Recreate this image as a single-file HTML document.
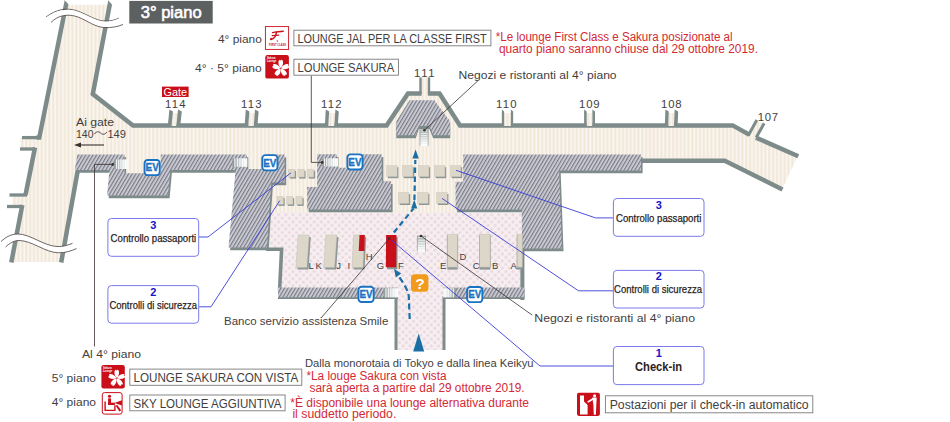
<!DOCTYPE html>
<html><head><meta charset="utf-8"><title>3° piano</title>
<style>
html,body{margin:0;padding:0;background:#fff;}
body{width:950px;height:422px;overflow:hidden;}
svg{display:block;}
text{font-family:"Liberation Sans",sans-serif;}
</style></head><body>
<svg width="950" height="422" viewBox="0 0 950 422">
<defs>
<pattern id="stripes" patternUnits="userSpaceOnUse" width="3.85" height="10">
<rect width="3.85" height="10" fill="#f1e7d7"/>
<rect x="0.3" width="1.9" height="10" fill="#faf6f1"/>
</pattern>
<pattern id="hatch" patternUnits="userSpaceOnUse" width="3.6" height="7" patternTransform="skewX(-30.5)">
<rect width="3.6" height="7" fill="#c9c9d3"/>
<rect x="0" width="1.3" height="7" fill="#787a82"/>
</pattern>
<pattern id="dots" patternUnits="userSpaceOnUse" width="7.1" height="7.1">
<rect width="7.1" height="7.1" fill="#f6eff1"/>
<circle cx="1.8" cy="1.8" r="1.6" fill="#ecd7df"/>
<circle cx="5.35" cy="5.35" r="1.6" fill="#ecd7df"/>
</pattern>
<linearGradient id="escL" x1="0" x2="1" y1="0" y2="0">
<stop offset="0" stop-color="#8c9696"/><stop offset="0.65" stop-color="#e2e6e6"/><stop offset="1" stop-color="#ffffff"/>
</linearGradient>
<linearGradient id="escR" x1="0" x2="1" y1="0" y2="0">
<stop offset="0" stop-color="#ffffff"/><stop offset="0.35" stop-color="#e2e6e6"/><stop offset="1" stop-color="#8c9696"/>
</linearGradient>
<linearGradient id="escV" x1="0" x2="0" y1="0" y2="1">
<stop offset="0" stop-color="#9ca5a5"/><stop offset="0.75" stop-color="#e6eaea"/><stop offset="1" stop-color="#ffffff"/>
</linearGradient>
</defs>
<rect width="950" height="422" fill="#fff"/>

<polygon points="66.4,4.7 110.5,4.7 92.8,94 133,125.5 386.6,125.5 408,93.7 420.3,93.7 420.3,77.4 429.2,77.4 429.2,93.7 439.5,93.7 460,125.5 732.6,125.5 749,134.5 756,137 798,155.5 782,189.5 724.7,160.8 640,160.8 640,156 463,156 463,213 272,213 272,156 78,156 61,262 11.5,262 22.5,207 12.5,207 12.5,195 25.5,195 35,149 20,149 20,137.6 39,137.6" fill="url(#stripes)" />
<rect x="124" y="154" width="37.5" height="21" fill="url(#stripes)"/>
<rect x="246" y="154" width="23" height="17" fill="url(#stripes)"/>
<rect x="336" y="154" width="14" height="15" fill="url(#stripes)"/>
<polygon points="268,212.5 522,212.5 522,290 443.5,290 443.5,350 396,350 396,290 279,290 281,250 266,250" fill="url(#dots)" />
<polyline points="67.6,-3 39.3,137.6 36.5,137.6" fill="none" stroke="#7e8b8b" stroke-width="4.5" stroke-linejoin="miter" stroke-miterlimit="10" />
<polyline points="39,137.6 22,137.6" fill="none" stroke="#7e8b8b" stroke-width="3.3" stroke-linejoin="miter" stroke-miterlimit="10" />
<polyline points="20,149 35,149" fill="none" stroke="#7e8b8b" stroke-width="3.3" stroke-linejoin="miter" stroke-miterlimit="10" />
<polyline points="35,147.5 25.5,195" fill="none" stroke="#7e8b8b" stroke-width="4.5" stroke-linejoin="miter" stroke-miterlimit="10" />
<polyline points="27,195 9.5,195" fill="none" stroke="#7e8b8b" stroke-width="3.3" stroke-linejoin="miter" stroke-miterlimit="10" />
<polyline points="7,206.5 22.3,206.5" fill="none" stroke="#7e8b8b" stroke-width="3.3" stroke-linejoin="miter" stroke-miterlimit="10" />
<polyline points="22.3,205 11.3,262.5" fill="none" stroke="#7e8b8b" stroke-width="4.5" stroke-linejoin="miter" stroke-miterlimit="10" />
<polyline points="111.2,-3 92.8,94 133,125.4 386.6,125.4 408,93.6 421.6,93.6" fill="none" stroke="#7e8b8b" stroke-width="4.5" stroke-linejoin="miter" stroke-miterlimit="10" />
<polyline points="427.9,93.6 439.5,93.6 460,125.4 732.6,125.4 749.5,134.8" fill="none" stroke="#7e8b8b" stroke-width="4.5" stroke-linejoin="miter" stroke-miterlimit="10" />
<polyline points="756,137.6 798.3,156.3" fill="none" stroke="#7e8b8b" stroke-width="4.5" stroke-linejoin="miter" stroke-miterlimit="10" />
<polygon points="750.5,134.5 757.5,121 763,124 756,136.5" fill="url(#stripes)" />
<polyline points="748.3,135.5 756.8,120" fill="none" stroke="#7e8b8b" stroke-width="3" stroke-linejoin="miter" stroke-miterlimit="10" />
<polyline points="764.2,123.3 756.2,137.5" fill="none" stroke="#7e8b8b" stroke-width="3" stroke-linejoin="miter" stroke-miterlimit="10" />
<polygon points="171.3,126 172.9,113 178.1,113 176.5,126" fill="url(#stripes)"/>
<polygon points="167.79999999999998,126 169.39999999999998,109.4 173.0,111.6 171.4,126" fill="#7e8b8b" />
<polygon points="176.4,126 178.0,109.4 181.8,111.6 180.20000000000002,126" fill="#7e8b8b" />
<polygon points="248.10000000000002,126 249.3,113 255.09999999999997,113 253.89999999999998,126" fill="url(#stripes)"/>
<polygon points="244.6,126 245.79999999999998,109.4 249.4,111.6 248.20000000000002,126" fill="#7e8b8b" />
<polygon points="253.79999999999998,126 254.99999999999997,109.4 258.59999999999997,111.6 257.4,126" fill="#7e8b8b" />
<polygon points="328.09999999999997,126 329.09999999999997,113 335.50000000000006,113 334.50000000000006,126" fill="url(#stripes)"/>
<polygon points="324.8,126 325.8,109.4 329.2,111.6 328.2,126" fill="#7e8b8b" />
<polygon points="334.40000000000003,126 335.40000000000003,109.4 338.8,111.6 337.8,126" fill="#7e8b8b" />
<polygon points="504.04999999999995,126 504.04999999999995,113 510.95000000000005,113 510.95000000000005,126" fill="url(#stripes)"/>
<polygon points="501.85,126 501.85,109.4 504.15,111.6 504.15,126" fill="#7e8b8b" />
<polygon points="510.85,126 510.85,109.4 513.15,111.6 513.15,126" fill="#7e8b8b" />
<polygon points="586.5999999999999,126 586.5999999999999,113 592.5000000000001,113 592.5000000000001,126" fill="url(#stripes)"/>
<polygon points="584.1,126 584.1,109.4 586.6999999999999,111.6 586.6999999999999,126" fill="#7e8b8b" />
<polygon points="592.4000000000001,126 592.4000000000001,109.4 595.0,111.6 595.0,126" fill="#7e8b8b" />
<polygon points="668.1,126 668.7,113 674.7,113 674.1,126" fill="url(#stripes)"/>
<polygon points="664.8,126 665.4,109.4 668.8000000000001,111.6 668.2,126" fill="#7e8b8b" />
<polygon points="674.0,126 674.6,109.4 678.1999999999999,111.6 677.5999999999999,126" fill="#7e8b8b" />
<polyline points="420.5,77.4 420.5,94" fill="none" stroke="#7e8b8b" stroke-width="2.4" stroke-linejoin="miter" stroke-miterlimit="10" />
<polyline points="429,77.4 429,94" fill="none" stroke="#7e8b8b" stroke-width="2.4" stroke-linejoin="miter" stroke-miterlimit="10" />
<polyline points="640,160.8 724.7,160.8 782.5,189.5" fill="none" stroke="#7e8b8b" stroke-width="4.5" stroke-linejoin="miter" stroke-miterlimit="10" />
<polyline points="78.4,167 61.2,262.5" fill="none" stroke="#7e8b8b" stroke-width="4.5" stroke-linejoin="miter" stroke-miterlimit="10" />
<polyline points="266,249.2 281.6,249.2 279.6,290" fill="none" stroke="#7e8b8b" stroke-width="3.6" stroke-linejoin="miter" stroke-miterlimit="10" />
<polyline points="522.4,248 522.4,300" fill="none" stroke="#7e8b8b" stroke-width="4" stroke-linejoin="miter" stroke-miterlimit="10" />
<polyline points="396,296 396,350" fill="none" stroke="#7e8b8b" stroke-width="3" stroke-linejoin="miter" stroke-miterlimit="10" />
<polyline points="444,296 444,350" fill="none" stroke="#7e8b8b" stroke-width="3" stroke-linejoin="miter" stroke-miterlimit="10" />
<polygon points="63.3,-1 69.6,-1 69.6,5.3" fill="#fff" />
<polygon points="107.0,-1 116,-1 116,9.0" fill="#fff" />
<polygon points="79.0,157.3 126.1,157.3 126.1,176.10000000000002 162.4,176.10000000000002 162.4,157.3 248.29999999999998,157.3 248.29999999999998,171.8 269.6,171.8 269.6,157.3 286.20000000000005,157.3 286.20000000000005,185.3 272.90000000000003,185.3 268.6,250.3 230.1,250.3 237.2,172.8 171.9,172.8 169.6,198.20000000000002 108.6,198.20000000000002 111.1,172.8 76.3,172.8" fill="#7e8b8b" />
<polygon points="77.4,154.5 124.5,154.5 124.5,173.3 160.8,173.3 160.8,154.5 246.7,154.5 246.7,169 268,169 268,154.5 284.6,154.5 284.6,182.5 271.3,182.5 267,247.5 228.5,247.5 235.6,170 170.3,170 168,195.4 107,195.4 109.5,170 74.7,170" fill="url(#hatch)" />
<polygon points="318.70000000000005,157.10000000000002 338.40000000000003,157.10000000000002 338.40000000000003,170.60000000000002 350.6,170.60000000000002 350.6,157.10000000000002 383.3,157.10000000000002 383.3,184.10000000000002 392.6,184.10000000000002 392.6,212.3 308.70000000000005,212.3 308.70000000000005,189.70000000000002 318.70000000000005,189.70000000000002" fill="#7e8b8b" />
<polygon points="317.1,154.3 336.8,154.3 336.8,167.8 349,167.8 349,154.3 381.7,154.3 381.7,181.3 391,181.3 391,209.5 307.1,209.5 307.1,186.9 317.1,186.9" fill="url(#hatch)" />
<polygon points="464.8,157.3 642.6,157.3 642.6,173.20000000000002 560.7,173.20000000000002 563.5,251.3 523.4,251.3 523.4,212.3 457.1,212.3 457.1,184.60000000000002 464.8,184.60000000000002" fill="#7e8b8b" />
<polygon points="463.2,154.5 641,154.5 641,170.4 559.1,170.4 561.9,248.5 521.8,248.5 521.8,209.5 455.5,209.5 455.5,181.8 463.2,181.8" fill="url(#hatch)" />
<polygon points="409.5,103.2 434.3,103.2 450.2,124.4 450.2,138.2 433.2,138.2 429.4,129 418.8,129 415.8,138.2 396.3,138.2 396.3,124.4" fill="#7e8b8b" />
<polygon points="409.5,100.2 434.3,100.2 450.2,121.4 450.2,135.2 433.2,135.2 429.4,126 418.8,126 415.8,135.2 396.3,135.2 396.3,121.4" fill="url(#hatch)" />
<polygon points="278,289.40000000000003 398,289.40000000000003 398,299.0 278,299.0" fill="#7e8b8b" />
<polygon points="278,287.6 398,287.6 398,297.2 278,297.2" fill="url(#hatch)" />
<polygon points="443.2,289.40000000000003 524.4,289.40000000000003 524.4,299.0 443.2,299.0" fill="#7e8b8b" />
<polygon points="443.2,287.6 524.4,287.6 524.4,297.2 443.2,297.2" fill="url(#hatch)" />
<rect x="114.2" y="159.5" width="13.4" height="9.5" fill="url(#escL)"/>
<line x1="116.43" y1="159.5" x2="116.43" y2="169.0" stroke="#ffffff" stroke-width="1.0" opacity="0.9"/>
<line x1="118.67" y1="159.5" x2="118.67" y2="169.0" stroke="#ffffff" stroke-width="1.0" opacity="0.9"/>
<line x1="120.90" y1="159.5" x2="120.90" y2="169.0" stroke="#ffffff" stroke-width="1.0" opacity="0.9"/>
<line x1="123.13" y1="159.5" x2="123.13" y2="169.0" stroke="#ffffff" stroke-width="1.0" opacity="0.9"/>
<line x1="125.37" y1="159.5" x2="125.37" y2="169.0" stroke="#ffffff" stroke-width="1.0" opacity="0.9"/>
<rect x="232.4" y="158.3" width="15" height="8.5" fill="url(#escL)"/>
<line x1="234.90" y1="158.3" x2="234.90" y2="166.8" stroke="#ffffff" stroke-width="1.0" opacity="0.9"/>
<line x1="237.40" y1="158.3" x2="237.40" y2="166.8" stroke="#ffffff" stroke-width="1.0" opacity="0.9"/>
<line x1="239.90" y1="158.3" x2="239.90" y2="166.8" stroke="#ffffff" stroke-width="1.0" opacity="0.9"/>
<line x1="242.40" y1="158.3" x2="242.40" y2="166.8" stroke="#ffffff" stroke-width="1.0" opacity="0.9"/>
<line x1="244.90" y1="158.3" x2="244.90" y2="166.8" stroke="#ffffff" stroke-width="1.0" opacity="0.9"/>
<rect x="322.2" y="158.3" width="15.8" height="8.2" fill="url(#escL)"/>
<line x1="324.46" y1="158.3" x2="324.46" y2="166.5" stroke="#ffffff" stroke-width="1.0" opacity="0.9"/>
<line x1="326.71" y1="158.3" x2="326.71" y2="166.5" stroke="#ffffff" stroke-width="1.0" opacity="0.9"/>
<line x1="328.97" y1="158.3" x2="328.97" y2="166.5" stroke="#ffffff" stroke-width="1.0" opacity="0.9"/>
<line x1="331.23" y1="158.3" x2="331.23" y2="166.5" stroke="#ffffff" stroke-width="1.0" opacity="0.9"/>
<line x1="333.49" y1="158.3" x2="333.49" y2="166.5" stroke="#ffffff" stroke-width="1.0" opacity="0.9"/>
<line x1="335.74" y1="158.3" x2="335.74" y2="166.5" stroke="#ffffff" stroke-width="1.0" opacity="0.9"/>
<rect x="383.5" y="288.3" width="14.5" height="9" fill="url(#escL)"/>
<line x1="385.92" y1="288.3" x2="385.92" y2="297.3" stroke="#ffffff" stroke-width="1.0" opacity="0.9"/>
<line x1="388.33" y1="288.3" x2="388.33" y2="297.3" stroke="#ffffff" stroke-width="1.0" opacity="0.9"/>
<line x1="390.75" y1="288.3" x2="390.75" y2="297.3" stroke="#ffffff" stroke-width="1.0" opacity="0.9"/>
<line x1="393.17" y1="288.3" x2="393.17" y2="297.3" stroke="#ffffff" stroke-width="1.0" opacity="0.9"/>
<line x1="395.58" y1="288.3" x2="395.58" y2="297.3" stroke="#ffffff" stroke-width="1.0" opacity="0.9"/>
<rect x="443.2" y="288.3" width="12.8" height="9" fill="url(#escR)"/>
<line x1="445.76" y1="288.3" x2="445.76" y2="297.3" stroke="#ffffff" stroke-width="1.0" opacity="0.9"/>
<line x1="448.32" y1="288.3" x2="448.32" y2="297.3" stroke="#ffffff" stroke-width="1.0" opacity="0.9"/>
<line x1="450.88" y1="288.3" x2="450.88" y2="297.3" stroke="#ffffff" stroke-width="1.0" opacity="0.9"/>
<line x1="453.44" y1="288.3" x2="453.44" y2="297.3" stroke="#ffffff" stroke-width="1.0" opacity="0.9"/>
<rect x="419.6" y="129.3" width="9" height="16.7" fill="url(#escV)"/>
<line x1="420.40000000000003" y1="131.09" x2="427.8" y2="131.09" stroke="#ffffff" stroke-width="0.9" opacity="0.85"/>
<line x1="420.40000000000003" y1="133.38" x2="427.8" y2="133.38" stroke="#ffffff" stroke-width="0.9" opacity="0.85"/>
<line x1="420.40000000000003" y1="135.66" x2="427.8" y2="135.66" stroke="#ffffff" stroke-width="0.9" opacity="0.85"/>
<line x1="420.40000000000003" y1="137.95" x2="427.8" y2="137.95" stroke="#ffffff" stroke-width="0.9" opacity="0.85"/>
<line x1="420.40000000000003" y1="140.24" x2="427.8" y2="140.24" stroke="#ffffff" stroke-width="0.9" opacity="0.85"/>
<line x1="420.40000000000003" y1="142.53" x2="427.8" y2="142.53" stroke="#ffffff" stroke-width="0.9" opacity="0.85"/>
<line x1="420.40000000000003" y1="144.81" x2="427.8" y2="144.81" stroke="#ffffff" stroke-width="0.9" opacity="0.85"/>
<line x1="420.0" y1="129.3" x2="420.0" y2="146.0" stroke="#a4abab" stroke-width="0.8"/>
<line x1="428.20000000000005" y1="129.3" x2="428.20000000000005" y2="146.0" stroke="#a4abab" stroke-width="0.8"/>
<rect x="417" y="235.6" width="8.9" height="16" fill="url(#escV)"/>
<line x1="417.8" y1="237.64" x2="425.09999999999997" y2="237.64" stroke="#ffffff" stroke-width="0.9" opacity="0.85"/>
<line x1="417.8" y1="240.18" x2="425.09999999999997" y2="240.18" stroke="#ffffff" stroke-width="0.9" opacity="0.85"/>
<line x1="417.8" y1="242.72" x2="425.09999999999997" y2="242.72" stroke="#ffffff" stroke-width="0.9" opacity="0.85"/>
<line x1="417.8" y1="245.26" x2="425.09999999999997" y2="245.26" stroke="#ffffff" stroke-width="0.9" opacity="0.85"/>
<line x1="417.8" y1="247.80" x2="425.09999999999997" y2="247.80" stroke="#ffffff" stroke-width="0.9" opacity="0.85"/>
<line x1="417.8" y1="250.34" x2="425.09999999999997" y2="250.34" stroke="#ffffff" stroke-width="0.9" opacity="0.85"/>
<line x1="417.4" y1="235.6" x2="417.4" y2="251.6" stroke="#a4abab" stroke-width="0.8"/>
<line x1="425.5" y1="235.6" x2="425.5" y2="251.6" stroke="#a4abab" stroke-width="0.8"/>
<rect x="289.7" y="170.79999999999998" width="6.4" height="7.8" fill="#8e9797"/>
<rect x="288.4" y="169.2" width="6.4" height="7.8" fill="#ddd7ca" stroke="#c9c2b3" stroke-width="0.4"/>
<rect x="299.2" y="170.79999999999998" width="6.4" height="7.8" fill="#8e9797"/>
<rect x="297.9" y="169.2" width="6.4" height="7.8" fill="#ddd7ca" stroke="#c9c2b3" stroke-width="0.4"/>
<rect x="308.7" y="170.79999999999998" width="6.4" height="7.8" fill="#8e9797"/>
<rect x="307.4" y="169.2" width="6.4" height="7.8" fill="#ddd7ca" stroke="#c9c2b3" stroke-width="0.4"/>
<rect x="278.3" y="198.1" width="6.4" height="7.8" fill="#8e9797"/>
<rect x="277.0" y="196.5" width="6.4" height="7.8" fill="#ddd7ca" stroke="#c9c2b3" stroke-width="0.4"/>
<rect x="287.8" y="198.1" width="6.4" height="7.8" fill="#8e9797"/>
<rect x="286.5" y="196.5" width="6.4" height="7.8" fill="#ddd7ca" stroke="#c9c2b3" stroke-width="0.4"/>
<rect x="297.3" y="198.1" width="6.4" height="7.8" fill="#8e9797"/>
<rect x="296.0" y="196.5" width="6.4" height="7.8" fill="#ddd7ca" stroke="#c9c2b3" stroke-width="0.4"/>
<rect x="387.90000000000003" y="167.2" width="10.5" height="11" fill="#8e9797"/>
<rect x="386.6" y="165.6" width="10.5" height="11" fill="#ddd7ca" stroke="#c9c2b3" stroke-width="0.4"/>
<rect x="403.7" y="167.2" width="10.5" height="11" fill="#8e9797"/>
<rect x="402.4" y="165.6" width="10.5" height="11" fill="#ddd7ca" stroke="#c9c2b3" stroke-width="0.4"/>
<rect x="419.7" y="167.2" width="10.5" height="11" fill="#8e9797"/>
<rect x="418.4" y="165.6" width="10.5" height="11" fill="#ddd7ca" stroke="#c9c2b3" stroke-width="0.4"/>
<rect x="435.7" y="167.2" width="10.5" height="11" fill="#8e9797"/>
<rect x="434.4" y="165.6" width="10.5" height="11" fill="#ddd7ca" stroke="#c9c2b3" stroke-width="0.4"/>
<rect x="451.7" y="167.2" width="10.5" height="11" fill="#8e9797"/>
<rect x="450.4" y="165.6" width="10.5" height="11" fill="#ddd7ca" stroke="#c9c2b3" stroke-width="0.4"/>
<rect x="399.7" y="194.0" width="10.5" height="11" fill="#8e9797"/>
<rect x="398.4" y="192.4" width="10.5" height="11" fill="#ddd7ca" stroke="#c9c2b3" stroke-width="0.4"/>
<rect x="418.90000000000003" y="194.0" width="10.5" height="11" fill="#8e9797"/>
<rect x="417.6" y="192.4" width="10.5" height="11" fill="#ddd7ca" stroke="#c9c2b3" stroke-width="0.4"/>
<rect x="437.90000000000003" y="194.0" width="10.5" height="11" fill="#8e9797"/>
<rect x="436.6" y="192.4" width="10.5" height="11" fill="#ddd7ca" stroke="#c9c2b3" stroke-width="0.4"/>
<polygon points="299.8,237.0 310.8,237.0 308.5,269.6 297.5,269.6" fill="#8e9898" />
<polygon points="298.2,235 309.2,235 306.9,267.6 295.9,267.6" fill="#ddd7ca" stroke="#b9b5aa" stroke-width="0.4"/>
<polygon points="327.50000000000006,237.0 338.50000000000006,237.0 336.20000000000005,269.6 325.20000000000005,269.6" fill="#8e9898" />
<polygon points="325.90000000000003,235 336.90000000000003,235 334.6,267.6 323.6,267.6" fill="#ddd7ca" stroke="#b9b5aa" stroke-width="0.4"/>
<polygon points="355.20000000000005,237.0 366.20000000000005,237.0 364.6,269.6 353.6,269.6" fill="#8e9898" />
<polygon points="353.6,235 364.6,235 363.0,267.6 352.0,267.6" fill="#ddd7ca" stroke="#b9b5aa" stroke-width="0.4"/>
<polygon points="359.5,235 364.8,235 364.4,251 358.7,251" fill="#c90f1a"/>
<polygon points="387.3,237.0 397.7,237.0 397.4,269.2 387.0,269.2" fill="#8e9898" />
<polygon points="386.1,235 396.5,235 396.2,267.2 385.8,267.2" fill="#c90f1a" />
<polygon points="447.3,236.8 457.7,236.8 457.7,269.59999999999997 447.3,269.59999999999997" fill="#8e9898" />
<polygon points="447.3,234.4 457.7,234.4 457.7,267.2 447.3,267.2" fill="#ddd7ca" stroke="#b9b5aa" stroke-width="0.4"/>
<polygon points="479.5,236.8 490.4,236.8 490.4,269.59999999999997 479.5,269.59999999999997" fill="#8e9898" />
<polygon points="479.5,234.4 490.4,234.4 490.4,267.2 479.5,267.2" fill="#ddd7ca" stroke="#b9b5aa" stroke-width="0.4"/>
<polygon points="517.0,236.8 522.4,236.8 522.4,269.59999999999997 517,269.59999999999997" fill="#8e9898" />
<polygon points="517.0,234.4 522.4,234.4 522.4,267.2 517,267.2" fill="#ddd7ca" stroke="#b9b5aa" stroke-width="0.4"/>
<line x1="447.3" y1="234.6" x2="447.3" y2="267" stroke="#a7aaa6" stroke-width="0.6"/>
<line x1="457.7" y1="234.6" x2="457.7" y2="267" stroke="#a7aaa6" stroke-width="0.6"/>
<line x1="479.5" y1="234.6" x2="479.5" y2="267" stroke="#a7aaa6" stroke-width="0.6"/>
<line x1="490.4" y1="234.6" x2="490.4" y2="267" stroke="#a7aaa6" stroke-width="0.6"/>
<line x1="517" y1="234.6" x2="517" y2="267" stroke="#a7aaa6" stroke-width="0.6"/>
<rect x="144.54999999999998" y="159.95" width="15.2" height="15.2" rx="3.2" fill="#fff" stroke="#1a73c2" stroke-width="1.9"/>
<text x="152.15" y="171.3" font-size="10" font-weight="bold" fill="#1a73c2" stroke="#1a73c2" stroke-width="0.35" text-anchor="middle" textLength="13.2" lengthAdjust="spacingAndGlyphs">EV</text>
<rect x="262.25" y="155.14999999999998" width="15.2" height="15.2" rx="3.2" fill="#fff" stroke="#1a73c2" stroke-width="1.9"/>
<text x="269.85" y="166.5" font-size="10" font-weight="bold" fill="#1a73c2" stroke="#1a73c2" stroke-width="0.35" text-anchor="middle" textLength="13.2" lengthAdjust="spacingAndGlyphs">EV</text>
<rect x="347.34999999999997" y="154.35" width="15.2" height="15.2" rx="3.2" fill="#fff" stroke="#1a73c2" stroke-width="1.9"/>
<text x="354.95" y="165.70000000000002" font-size="10" font-weight="bold" fill="#1a73c2" stroke="#1a73c2" stroke-width="0.35" text-anchor="middle" textLength="13.2" lengthAdjust="spacingAndGlyphs">EV</text>
<rect x="358.45" y="286.75" width="15.2" height="15.2" rx="3.2" fill="#fff" stroke="#1a73c2" stroke-width="1.9"/>
<text x="366.05" y="298.1" font-size="10" font-weight="bold" fill="#1a73c2" stroke="#1a73c2" stroke-width="0.35" text-anchor="middle" textLength="13.2" lengthAdjust="spacingAndGlyphs">EV</text>
<rect x="467.15" y="286.95" width="15.2" height="15.2" rx="3.2" fill="#fff" stroke="#1a73c2" stroke-width="1.9"/>
<text x="474.75" y="298.3" font-size="10" font-weight="bold" fill="#1a73c2" stroke="#1a73c2" stroke-width="0.35" text-anchor="middle" textLength="13.2" lengthAdjust="spacingAndGlyphs">EV</text>
<rect x="411" y="274.3" width="17.4" height="17.5" rx="3.6" fill="#f29a1c"/>
<text x="419.9" y="289.2" font-size="15.5" font-weight="bold" fill="#fff" text-anchor="middle">?</text>
<path d="M409.7,319 L408.8,297 C408.5,292 406,287 399.5,277.3" fill="none" stroke="#1b6ea3" stroke-width="2.2" stroke-dasharray="6,3.5"/>
<polygon points="394,268.7 401.2,273.6 395.8,277.4" fill="#1b6ea3"/>
<path d="M393.8,232.5 L413.6,208.5" fill="none" stroke="#1b6ea3" stroke-width="2.2" stroke-dasharray="5.5,3.5"/>
<polygon points="414.2,199.5 417.3,208.6 411.2,208.6" fill="#1b6ea3"/>
<path d="M414.4,200 L415.3,160" fill="none" stroke="#1b6ea3" stroke-width="2.2" stroke-dasharray="5.5,3.5"/>
<polygon points="415.6,149.5 418.8,158.6 412.4,158.6" fill="#1b6ea3"/>
<polygon points="418.7,333.5 424.2,351.5 413.2,351.5" fill="#1b6ea3"/>
<polyline points="94.5,346.5 94.5,164.4 112.7,164.4" fill="none" stroke="#3a3030" stroke-width="0.8"/>
<circle cx="112.7" cy="164.5" r="1.4" fill="#3a3030"/>
<polyline points="311.3,75.6 311.3,162.4 322.2,162.4" fill="none" stroke="#3a3030" stroke-width="0.8"/>
<circle cx="322.2" cy="162.4" r="1.4" fill="#3a3030"/>
<line x1="478.3" y1="80.4" x2="424.4" y2="130.2" stroke="#3a3030" stroke-width="0.8"/>
<circle cx="424.4" cy="130.2" r="1.3" fill="#3a3030"/>
<line x1="389.2" y1="238.6" x2="321.5" y2="317.5" stroke="#3a3030" stroke-width="0.8"/>
<circle cx="389.2" cy="238.6" r="1.3" fill="#3a3030"/>
<line x1="421" y1="236" x2="532.3" y2="315.2" stroke="#3a3030" stroke-width="0.8"/>
<circle cx="421" cy="236" r="1.3" fill="#3a3030"/>
<polyline points="198.7,237 208,237 291,172.8" fill="none" stroke="#3b3bd8" stroke-width="0.9"/>
<polyline points="198.7,306.8 211,306.8 279.8,200.6" fill="none" stroke="#3b3bd8" stroke-width="0.9"/>
<polyline points="456,170.3 595.5,217.9 613.4,217.9" fill="none" stroke="#3b3bd8" stroke-width="0.9"/>
<polyline points="442,198.4 578.5,290.8 613.4,290.8" fill="none" stroke="#3b3bd8" stroke-width="0.9"/>
<polyline points="391.3,240 540,366 613.4,366" fill="none" stroke="#3b3bd8" stroke-width="0.9"/>
<path d="M46,17 C56,9.5 66,7.5 76,10.5 C88,14.5 95,20.5 104,21 C111,21.5 116,19.5 119,18" fill="none" stroke="#4a4040" stroke-width="0.8"/>
<path d="M46,17.5 C56,10 66,8 76,11 C88,15 95,21 104,21.5 C111,22 116,20 119,18.5 L123,24.5 C118,26.5 112,28 104,27.5 C95,27 88,21 78,17 C68,13.5 58,15 51,22.5 Z" fill="#fff"/>
<path d="M51,22.5 C58,15 68,13.5 78,17 C88,21 95,27 104,27.5 C112,28 118,26.5 123,24.5" fill="none" stroke="#4a4040" stroke-width="0.8"/>
<path d="M0,241.8 C6,237 11,234 18,234 C30,234 44,246 57,246.5 C63,247 68,245 72.5,243.3 L77,248.6 C71,251 65,253 58.5,252.8 C45,252.5 32,240.5 19,240.5 C14,240.5 10,243 4,248.5 Z" fill="#fff"/>
<path d="M1,241.5 C6,237 11,234 18,234 C30,234 44,246 57,246.5 C63,247 68,245 72.5,243.3" fill="none" stroke="#4a4040" stroke-width="0.8"/>
<path d="M5.5,247 C10,243 14,240.5 19,240.5 C32,240.5 45,252.5 58.5,252.8 C65,253 71,251 76.5,248.6" fill="none" stroke="#4a4040" stroke-width="0.8"/>
<rect x="129.3" y="0.9" width="83.4" height="22.6" fill="#5d6060"/>
<text x="140.7" y="17.5" font-family="Liberation Sans" font-size="16" fill="#fff" font-weight="normal" text-anchor="start" textLength="61" lengthAdjust="spacingAndGlyphs" stroke="#fff" stroke-width="0.55">3° piano</text>
<rect x="162" y="86.6" width="26.6" height="10.4" fill="#c90f1a"/>
<text x="175.3" y="95.6" font-family="Liberation Sans" font-size="10.5" fill="#fff" font-weight="normal" text-anchor="middle" textLength="23.5" lengthAdjust="spacingAndGlyphs" >Gate</text>
<text x="165.1" y="108" font-family="Liberation Sans" font-size="11.3" fill="#433e3e" font-weight="normal" text-anchor="start" textLength="20.4" lengthAdjust="spacing" >114</text>
<text x="241.1" y="108" font-family="Liberation Sans" font-size="11.3" fill="#433e3e" font-weight="normal" text-anchor="start" textLength="20.4" lengthAdjust="spacing" >113</text>
<text x="321.1" y="108" font-family="Liberation Sans" font-size="11.3" fill="#433e3e" font-weight="normal" text-anchor="start" textLength="20.4" lengthAdjust="spacing" >112</text>
<text x="414.1" y="76.6" font-family="Liberation Sans" font-size="11.3" fill="#433e3e" font-weight="normal" text-anchor="start" textLength="20.4" lengthAdjust="spacing" >111</text>
<text x="496.1" y="108" font-family="Liberation Sans" font-size="11.3" fill="#433e3e" font-weight="normal" text-anchor="start" textLength="20.4" lengthAdjust="spacing" >110</text>
<text x="579.1" y="108" font-family="Liberation Sans" font-size="11.3" fill="#433e3e" font-weight="normal" text-anchor="start" textLength="20.4" lengthAdjust="spacing" >109</text>
<text x="661.1" y="108" font-family="Liberation Sans" font-size="11.3" fill="#433e3e" font-weight="normal" text-anchor="start" textLength="20.4" lengthAdjust="spacing" >108</text>
<text x="757.7" y="120.8" font-family="Liberation Sans" font-size="11.3" fill="#433e3e" font-weight="normal" text-anchor="start" textLength="20.4" lengthAdjust="spacing" >107</text>
<text x="76" y="126.2" font-family="Liberation Sans" font-size="11.5" fill="#433e3e" font-weight="normal" text-anchor="start" textLength="38" lengthAdjust="spacingAndGlyphs" >Ai gate</text>
<text x="76" y="137.6" font-family="Liberation Sans" font-size="11.5" fill="#433e3e" font-weight="normal" text-anchor="start" textLength="17.5" lengthAdjust="spacingAndGlyphs" >140</text>
<text x="107.4" y="137.6" font-family="Liberation Sans" font-size="11.5" fill="#433e3e" font-weight="normal" text-anchor="start" textLength="18.5" lengthAdjust="spacingAndGlyphs" >149</text>
<path d="M94.2,134.2 C96.5,131.2 98.5,131.2 100.6,133 C102.7,134.8 104.7,134.8 106.9,132" fill="none" stroke="#433e3e" stroke-width="0.95"/>
<line x1="80" y1="145" x2="104" y2="145" stroke="#3a3030" stroke-width="1.1"/>
<polygon points="74,145 81,142.6 81,147.4" fill="#3a3030"/>
<text x="218" y="43.3" font-family="Liberation Sans" font-size="11.5" fill="#433e3e" font-weight="normal" text-anchor="start" textLength="43.8" lengthAdjust="spacingAndGlyphs" >4° piano</text>
<text x="195" y="72.3" font-family="Liberation Sans" font-size="11.5" fill="#433e3e" font-weight="normal" text-anchor="start" textLength="66.8" lengthAdjust="spacingAndGlyphs" >4° · 5° piano</text>
<rect x="265.4" y="26.6" width="23.2" height="22.8" fill="#fff" stroke="#c90f1a" stroke-width="0.9"/>
<path d="M272.6,32.6 C275.5,31.6 279.5,31.9 283.2,31.2" fill="none" stroke="#c90f1a" stroke-width="1.5" stroke-linecap="round"/>
<path d="M272.2,35.6 L278.8,35.1" fill="none" stroke="#c90f1a" stroke-width="1.2" stroke-linecap="round"/>
<path d="M276.4,32.3 C276,35.5 274.5,38.3 271.6,39.4 C270.5,39.8 270.2,38.8 271.3,38.4" fill="none" stroke="#c90f1a" stroke-width="1.4" stroke-linecap="round"/>
<path d="M276.5,40.6 l0.8,1.6 l0.8,-1.6 z" fill="#c90f1a"/>
<text x="277.6" y="46.2" font-family="Liberation Sans" font-size="3.3" fill="#c90f1a" font-weight="bold" text-anchor="middle" textLength="17" lengthAdjust="spacingAndGlyphs" >FIRST CLASS</text>
<rect x="265.3" y="55" width="23.6" height="23.6" rx="2.2" fill="#c90f1a"/>
<path d="M0,-0.4 C-1.7,-1.8 -2.7,-4.5 -2.2,-7.1 C-1.9,-8.2 -1.1,-8.5 -0.6,-8.6 L0,-7.5 L0.6,-8.6 C1.1,-8.5 1.9,-8.2 2.2,-7.1 C2.7,-4.5 1.7,-1.8 0,-0.4 Z" fill="#fff" transform="translate(280.76 68.33) scale(1.000) rotate(0)"/>
<path d="M0,-0.4 C-1.7,-1.8 -2.7,-4.5 -2.2,-7.1 C-1.9,-8.2 -1.1,-8.5 -0.6,-8.6 L0,-7.5 L0.6,-8.6 C1.1,-8.5 1.9,-8.2 2.2,-7.1 C2.7,-4.5 1.7,-1.8 0,-0.4 Z" fill="#fff" transform="translate(280.76 68.33) scale(1.000) rotate(72)"/>
<path d="M0,-0.4 C-1.7,-1.8 -2.7,-4.5 -2.2,-7.1 C-1.9,-8.2 -1.1,-8.5 -0.6,-8.6 L0,-7.5 L0.6,-8.6 C1.1,-8.5 1.9,-8.2 2.2,-7.1 C2.7,-4.5 1.7,-1.8 0,-0.4 Z" fill="#fff" transform="translate(280.76 68.33) scale(1.000) rotate(144)"/>
<path d="M0,-0.4 C-1.7,-1.8 -2.7,-4.5 -2.2,-7.1 C-1.9,-8.2 -1.1,-8.5 -0.6,-8.6 L0,-7.5 L0.6,-8.6 C1.1,-8.5 1.9,-8.2 2.2,-7.1 C2.7,-4.5 1.7,-1.8 0,-0.4 Z" fill="#fff" transform="translate(280.76 68.33) scale(1.000) rotate(216)"/>
<path d="M0,-0.4 C-1.7,-1.8 -2.7,-4.5 -2.2,-7.1 C-1.9,-8.2 -1.1,-8.5 -0.6,-8.6 L0,-7.5 L0.6,-8.6 C1.1,-8.5 1.9,-8.2 2.2,-7.1 C2.7,-4.5 1.7,-1.8 0,-0.4 Z" fill="#fff" transform="translate(280.76 68.33) scale(1.000) rotate(288)"/>
<text x="266.90000000000003" y="58.90" font-size="2.60" fill="#fff" font-weight="bold">Sakura</text>
<text x="266.90000000000003" y="61.60" font-size="2.60" fill="#fff" font-weight="bold">Lounge</text>
<rect x="293.9" y="30.2" width="197" height="15.6" fill="#fff" stroke="#7a7a7a" stroke-width="0.9"/>
<text x="297.4" y="43.2" font-family="Liberation Sans" font-size="12.4" fill="#433e3e" font-weight="normal" text-anchor="start" textLength="189.4" lengthAdjust="spacingAndGlyphs" >LOUNGE JAL PER LA CLASSE FIRST</text>
<rect x="293.9" y="59.2" width="104.5" height="16" fill="#fff" stroke="#7a7a7a" stroke-width="0.9"/>
<text x="297.4" y="72.3" font-family="Liberation Sans" font-size="12.4" fill="#433e3e" font-weight="normal" text-anchor="start" textLength="96.8" lengthAdjust="spacingAndGlyphs" >LOUNGE SAKURA</text>
<text x="495.8" y="41.4" font-family="Liberation Sans" font-size="12" fill="#d42a33" font-weight="normal" text-anchor="start" textLength="236.8" lengthAdjust="spacingAndGlyphs" >*Le lounge First Class e Sakura posizionate al</text>
<text x="499" y="53.4" font-family="Liberation Sans" font-size="12" fill="#d42a33" font-weight="normal" text-anchor="start" textLength="259" lengthAdjust="spacingAndGlyphs" >quarto piano saranno chiuse dal 29 ottobre 2019.</text>
<text x="458.6" y="78.5" font-family="Liberation Sans" font-size="11.5" fill="#433e3e" font-weight="normal" text-anchor="start" textLength="158" lengthAdjust="spacingAndGlyphs" >Negozi e ristoranti al 4° piano</text>
<rect x="107.9" y="218.5" width="90.79999999999998" height="37.80000000000001" rx="3.5" fill="#fff" stroke="#7a7aec" stroke-width="1"/>
<text x="153.3" y="229.3" font-family="Liberation Sans" font-size="11" fill="#1414c8" font-weight="bold" text-anchor="middle" >3</text>
<text x="110.6" y="242.2" font-family="Liberation Sans" font-size="11.2" fill="#2a2222" font-weight="normal" text-anchor="start" textLength="85.6" lengthAdjust="spacingAndGlyphs" stroke="#2a2222" stroke-width="0.25">Controllo passaporti</text>
<rect x="107.9" y="285.6" width="90.79999999999998" height="37.599999999999966" rx="3.5" fill="#fff" stroke="#7a7aec" stroke-width="1"/>
<text x="153.3" y="296.2" font-family="Liberation Sans" font-size="11" fill="#1414c8" font-weight="bold" text-anchor="middle" >2</text>
<text x="109.4" y="309.3" font-family="Liberation Sans" font-size="11.2" fill="#2a2222" font-weight="normal" text-anchor="start" textLength="87.7" lengthAdjust="spacingAndGlyphs" stroke="#2a2222" stroke-width="0.25">Controlli di sicurezza</text>
<rect x="613.4" y="198.5" width="90.60000000000002" height="37.80000000000001" rx="3.5" fill="#fff" stroke="#7a7aec" stroke-width="1"/>
<text x="658.7" y="209.4" font-family="Liberation Sans" font-size="11" fill="#1414c8" font-weight="bold" text-anchor="middle" >3</text>
<text x="616" y="222.3" font-family="Liberation Sans" font-size="11.2" fill="#2a2222" font-weight="normal" text-anchor="start" textLength="85.4" lengthAdjust="spacingAndGlyphs" stroke="#2a2222" stroke-width="0.25">Controllo passaporti</text>
<rect x="613.4" y="270.4" width="90.60000000000002" height="37.60000000000002" rx="3.5" fill="#fff" stroke="#7a7aec" stroke-width="1"/>
<text x="658.7" y="280.4" font-family="Liberation Sans" font-size="11" fill="#1414c8" font-weight="bold" text-anchor="middle" >2</text>
<text x="614" y="293.4" font-family="Liberation Sans" font-size="11.2" fill="#2a2222" font-weight="normal" text-anchor="start" textLength="88" lengthAdjust="spacingAndGlyphs" stroke="#2a2222" stroke-width="0.25">Controlli di sicurezza</text>
<rect x="613.4" y="346.5" width="90.60000000000002" height="38.10000000000002" rx="3.5" fill="#fff" stroke="#7a7aec" stroke-width="1"/>
<text x="658.7" y="357.4" font-family="Liberation Sans" font-size="11" fill="#1414c8" font-weight="bold" text-anchor="middle" >1</text>
<text x="635" y="370.9" font-family="Liberation Sans" font-size="12" fill="#2a2222" font-weight="bold" text-anchor="start" textLength="47.2" lengthAdjust="spacingAndGlyphs" >Check-in</text>
<text x="308.5" y="268.6" font-family="Liberation Sans" font-size="9.5" fill="#433e3e" font-weight="normal" text-anchor="start" >L</text>
<text x="315.6" y="268.6" font-family="Liberation Sans" font-size="9.5" fill="#433e3e" font-weight="normal" text-anchor="start" >K</text>
<text x="336.2" y="268.6" font-family="Liberation Sans" font-size="9.5" fill="#433e3e" font-weight="normal" text-anchor="start" >J</text>
<text x="347.6" y="268.6" font-family="Liberation Sans" font-size="9.5" fill="#433e3e" font-weight="normal" text-anchor="start" >I</text>
<text x="365.7" y="260" font-family="Liberation Sans" font-size="9.5" fill="#433e3e" font-weight="normal" text-anchor="start" >H</text>
<text x="376.7" y="268.6" font-family="Liberation Sans" font-size="9.5" fill="#433e3e" font-weight="normal" text-anchor="start" >G</text>
<text x="398" y="268.6" font-family="Liberation Sans" font-size="9.5" fill="#433e3e" font-weight="normal" text-anchor="start" >F</text>
<text x="440" y="268.6" font-family="Liberation Sans" font-size="9.5" fill="#433e3e" font-weight="normal" text-anchor="start" >E</text>
<text x="459.6" y="259.6" font-family="Liberation Sans" font-size="9.5" fill="#433e3e" font-weight="normal" text-anchor="start" >D</text>
<text x="472.8" y="268.6" font-family="Liberation Sans" font-size="9.5" fill="#433e3e" font-weight="normal" text-anchor="start" >C</text>
<text x="492" y="268.6" font-family="Liberation Sans" font-size="9.5" fill="#433e3e" font-weight="normal" text-anchor="start" >B</text>
<text x="510.5" y="268.6" font-family="Liberation Sans" font-size="9.5" fill="#433e3e" font-weight="normal" text-anchor="start" >A</text>
<text x="224" y="325.4" font-family="Liberation Sans" font-size="11.5" fill="#433e3e" font-weight="normal" text-anchor="start" textLength="164.3" lengthAdjust="spacingAndGlyphs" >Banco servizio assistenza Smile</text>
<text x="534.3" y="321.8" font-family="Liberation Sans" font-size="11.5" fill="#433e3e" font-weight="normal" text-anchor="start" textLength="160.7" lengthAdjust="spacingAndGlyphs" >Negozi e ristoranti al 4° piano</text>
<text x="305" y="366.7" font-family="Liberation Sans" font-size="11.5" fill="#433e3e" font-weight="normal" text-anchor="start" textLength="228.5" lengthAdjust="spacingAndGlyphs" >Dalla monorotaia di Tokyo e dalla linea Keikyu</text>
<text x="306.5" y="379.5" font-family="Liberation Sans" font-size="12" fill="#d42a33" font-weight="normal" text-anchor="start" textLength="140" lengthAdjust="spacingAndGlyphs" >*La louge Sakura con vista</text>
<text x="309.5" y="391.6" font-family="Liberation Sans" font-size="12" fill="#d42a33" font-weight="normal" text-anchor="start" textLength="215.1" lengthAdjust="spacingAndGlyphs" >sarà aperta a partire dal 29 ottobre 2019.</text>
<text x="290.3" y="406.6" font-family="Liberation Sans" font-size="12" fill="#d42a33" font-weight="normal" text-anchor="start" textLength="238.7" lengthAdjust="spacingAndGlyphs" >*È disponibile una lounge alternativa durante</text>
<text x="292.4" y="417.9" font-family="Liberation Sans" font-size="12" fill="#d42a33" font-weight="normal" text-anchor="start" textLength="104" lengthAdjust="spacingAndGlyphs" >il suddetto periodo.</text>
<text x="82" y="358" font-family="Liberation Sans" font-size="11.5" fill="#433e3e" font-weight="normal" text-anchor="start" textLength="59" lengthAdjust="spacingAndGlyphs" >Al 4° piano</text>
<text x="51.8" y="382" font-family="Liberation Sans" font-size="11.5" fill="#433e3e" font-weight="normal" text-anchor="start" textLength="44.2" lengthAdjust="spacingAndGlyphs" >5° piano</text>
<text x="51.8" y="405.8" font-family="Liberation Sans" font-size="11.5" fill="#433e3e" font-weight="normal" text-anchor="start" textLength="44.2" lengthAdjust="spacingAndGlyphs" >4° piano</text>
<rect x="101.4" y="365" width="23.4" height="23.4" rx="2.2" fill="#c90f1a"/>
<path d="M0,-0.4 C-1.7,-1.8 -2.7,-4.5 -2.2,-7.1 C-1.9,-8.2 -1.1,-8.5 -0.6,-8.6 L0,-7.5 L0.6,-8.6 C1.1,-8.5 1.9,-8.2 2.2,-7.1 C2.7,-4.5 1.7,-1.8 0,-0.4 Z" fill="#fff" transform="translate(116.73 378.22) scale(0.992) rotate(0)"/>
<path d="M0,-0.4 C-1.7,-1.8 -2.7,-4.5 -2.2,-7.1 C-1.9,-8.2 -1.1,-8.5 -0.6,-8.6 L0,-7.5 L0.6,-8.6 C1.1,-8.5 1.9,-8.2 2.2,-7.1 C2.7,-4.5 1.7,-1.8 0,-0.4 Z" fill="#fff" transform="translate(116.73 378.22) scale(0.992) rotate(72)"/>
<path d="M0,-0.4 C-1.7,-1.8 -2.7,-4.5 -2.2,-7.1 C-1.9,-8.2 -1.1,-8.5 -0.6,-8.6 L0,-7.5 L0.6,-8.6 C1.1,-8.5 1.9,-8.2 2.2,-7.1 C2.7,-4.5 1.7,-1.8 0,-0.4 Z" fill="#fff" transform="translate(116.73 378.22) scale(0.992) rotate(144)"/>
<path d="M0,-0.4 C-1.7,-1.8 -2.7,-4.5 -2.2,-7.1 C-1.9,-8.2 -1.1,-8.5 -0.6,-8.6 L0,-7.5 L0.6,-8.6 C1.1,-8.5 1.9,-8.2 2.2,-7.1 C2.7,-4.5 1.7,-1.8 0,-0.4 Z" fill="#fff" transform="translate(116.73 378.22) scale(0.992) rotate(216)"/>
<path d="M0,-0.4 C-1.7,-1.8 -2.7,-4.5 -2.2,-7.1 C-1.9,-8.2 -1.1,-8.5 -0.6,-8.6 L0,-7.5 L0.6,-8.6 C1.1,-8.5 1.9,-8.2 2.2,-7.1 C2.7,-4.5 1.7,-1.8 0,-0.4 Z" fill="#fff" transform="translate(116.73 378.22) scale(0.992) rotate(288)"/>
<text x="103.0" y="368.87" font-size="2.58" fill="#fff" font-weight="bold">Sakura</text>
<text x="103.0" y="371.54" font-size="2.58" fill="#fff" font-weight="bold">Lounge</text>
<rect x="102.3" y="392.6" width="19.8" height="21.5" rx="2.2" fill="#fff" stroke="#c90f1a" stroke-width="1"/>
<circle cx="109.5" cy="396.3" r="1.55" fill="#c90f1a"/>
<rect x="108.1" y="398.4" width="2.9" height="6.4" fill="#c90f1a"/>
<rect x="108.1" y="402.7" width="6.8" height="2.3" fill="#c90f1a"/>
<path d="M105.1,401.4 V410.4 H114.9 V405.2" fill="none" stroke="#c90f1a" stroke-width="1.4"/>
<polygon points="114.3,403.1 122,400.2 122,405.6" fill="#c90f1a"/>
<polygon points="115.6,405.4 117.4,404.9 121.2,410.4 119.3,411.5" fill="#c90f1a"/>
<rect x="129.8" y="369.1" width="172" height="16.2" fill="#fff" stroke="#7a7a7a" stroke-width="0.9"/>
<text x="133.5" y="382.2" font-family="Liberation Sans" font-size="12.4" fill="#433e3e" font-weight="normal" text-anchor="start" textLength="164.8" lengthAdjust="spacingAndGlyphs" >LOUNGE SAKURA CON VISTA</text>
<rect x="129.8" y="395" width="155.3" height="15.8" fill="#fff" stroke="#7a7a7a" stroke-width="0.9"/>
<text x="133.5" y="408" font-family="Liberation Sans" font-size="12.4" fill="#433e3e" font-weight="normal" text-anchor="start" textLength="148" lengthAdjust="spacingAndGlyphs" >SKY LOUNGE AGGIUNTIVA</text>
<rect x="577" y="392.7" width="22.9" height="23.2" rx="1.8" fill="#c90f1a"/>
<path d="M580,395.6 h4 v6 l3.6,3.3 v9.7 h-7.6 z" fill="#fff"/>
<circle cx="594.6" cy="395.8" r="1.5" fill="#fff"/>
<path d="M592.3,397.4 L596.7,397.4 L596.3,405 L595.9,414.8 L593.8,414.8 L593.4,405 Z" fill="#fff"/>
<path d="M593.2,398.8 L588.3,401.7" stroke="#fff" stroke-width="1.7" stroke-linecap="round"/>
<rect x="605.4" y="395.8" width="207.4" height="17" fill="#fff" stroke="#7a7a7a" stroke-width="0.9"/>
<text x="609.7" y="409.4" font-family="Liberation Sans" font-size="12" fill="#433e3e" font-weight="normal" text-anchor="start" textLength="199" lengthAdjust="spacingAndGlyphs" >Postazioni per il check-in automatico</text>
</svg>
</body></html>
